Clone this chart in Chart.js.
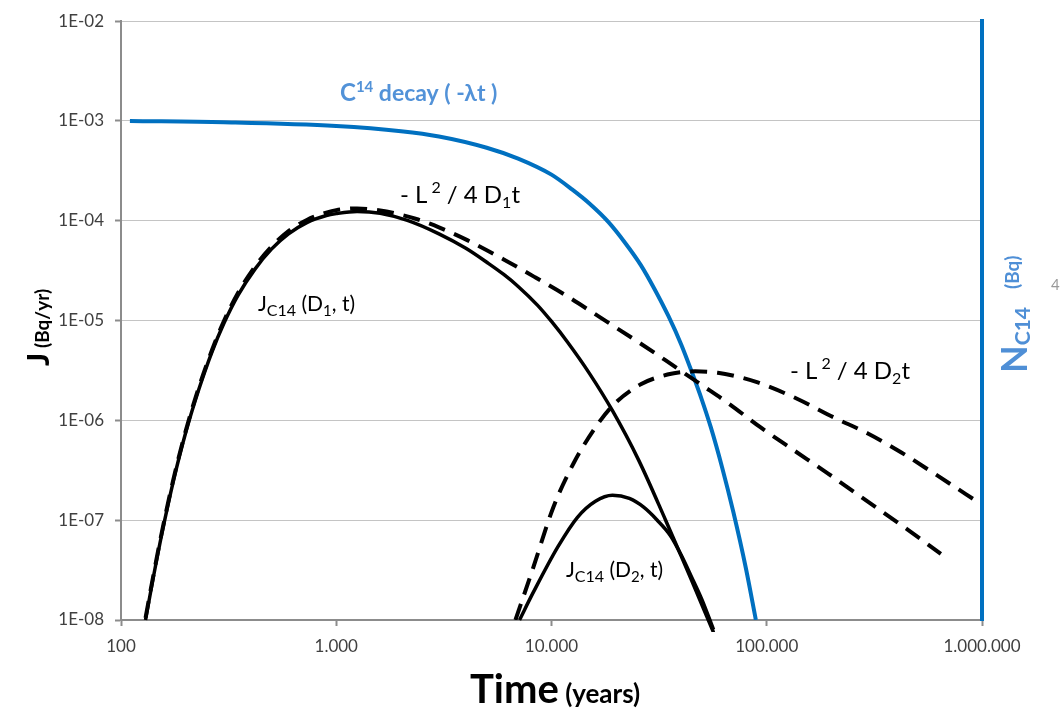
<!DOCTYPE html>
<html>
<head>
<meta charset="utf-8">
<script src="https://cdn.jsdelivr.net/npm/chart.js@4/dist/chart.umd.min.js"></script>
<style>
  html, body { margin: 0; padding: 0; background: #fff; }
  canvas { display: block; }
</style>
</head>
<body>
<canvas id="c" width="1061" height="711"></canvas>
<script>
// axis ticks (decades only)
const xTicks = [100, 1000, 10000, 100000, 1000000]
const xTickLabels = ["100", "1.000", "10.000", "100.000", "1.000.000"]
const yTicks = [1e-8, 1e-7, 1e-6, 1e-5, 1e-4, 1e-3, 1e-2]
const yTickLabels = ["1E-08", "1E-07", "1E-06", "1E-05", "1E-04", "1E-03", "1E-02"]

// C14 decay (blue)
const decayT = [110, 300, 1000, 2000, 3000, 5000, 7000, 10000, 12500, 15000, 18400, 22000, 26000, 30000, 35000, 40000, 45000, 50000, 55000, 62000, 70000, 80000, 89000]
const decayN = [1.0e-3, 9.7e-4, 8.9e-4, 7.9e-4, 7.0e-4, 5.4e-4, 4.2e-4, 2.9e-4, 2.05e-4, 1.49e-4, 9.7e-5, 6.0e-5, 3.6e-5, 2.1e-5, 1.1e-5, 5.8e-6, 3.0e-6, 1.6e-6, 8.5e-7, 3.4e-7, 1.2e-7, 3.3e-8, 1.0e-8]

// J_C14(D1, t) solid
const j1T = [130, 140, 155, 175, 200, 230, 265, 300, 350, 420, 500, 600, 730, 900, 1000, 1250, 1600, 2140, 3000, 4000, 5040, 6000, 7000, 8600, 10000, 11860, 15000, 19200, 25400, 33900, 40000, 44400, 56600]
const j1J = [1.0e-8, 2.4e-8, 7.4e-8, 2.45e-7, 7.6e-7, 2.05e-6, 4.9e-6, 9.3e-6, 1.8e-5, 3.3e-5, 5.2e-5, 7.4e-5, 9.6e-5, 1.13e-4, 1.18e-4, 1.24e-4, 1.19e-4, 1.01e-4, 7.4e-5, 5.3e-5, 3.8e-5, 2.9e-5, 2.2e-5, 1.43e-5, 9.8e-6, 6.1e-6, 2.96e-6, 1.25e-6, 4.0e-7, 1.0e-7, 4.4e-8, 2.6e-8, 7.5e-9]

// -L^2/4D1t dashed
const g1T = [130, 140, 155, 175, 200, 230, 265, 300, 350, 420, 500, 600, 730, 900, 1000, 1250, 1600, 2000, 2400, 3000, 4060, 6000, 8430, 11860, 16900, 25900, 35700, 49300, 65900, 93700, 134000, 192000, 265000, 453000, 644000]
const g1J = [1.05e-8, 2.5e-8, 7.7e-8, 2.55e-7, 7.9e-7, 2.15e-6, 5.1e-6, 9.8e-6, 1.9e-5, 3.5e-5, 5.5e-5, 7.9e-5, 1.02e-4, 1.21e-4, 1.28e-4, 1.33e-4, 1.27e-4, 1.15e-4, 1.03e-4, 8.6e-5, 6.4e-5, 4.1e-5, 2.7e-5, 1.75e-5, 1.07e-5, 5.9e-6, 3.7e-6, 2.3e-6, 1.5e-6, 8.5e-7, 5.0e-7, 2.95e-7, 1.8e-7, 8.0e-8, 4.6e-8]

// J_C14(D2, t) solid
const j2T = [7100, 8240, 10700, 13200, 16000, 19200, 23000, 26800, 31000, 35700, 40000, 44400, 50000, 56600]
const j2J = [1e-8, 1.9e-8, 5.4e-8, 1.07e-7, 1.55e-7, 1.78e-7, 1.65e-7, 1.35e-7, 1.0e-7, 7.0e-8, 4.5e-8, 2.8e-8, 1.6e-8, 8e-9]

// -L^2/4D2t dashed
const g2T = [6800, 8170, 10200, 12650, 16000, 19200, 26000, 35000, 40000, 46500, 59200, 70300, 90800, 139000, 205000, 295000, 420000, 598000, 989000]
const g2J = [1e-8, 3.2e-8, 1.35e-7, 3.7e-7, 8.5e-7, 1.4e-6, 2.3e-6, 2.9e-6, 3.05e-6, 3.1e-6, 3.0e-6, 2.8e-6, 2.4e-6, 1.64e-6, 1.07e-6, 7.4e-7, 4.8e-7, 2.95e-7, 1.45e-7]

const pts = (t, v) => t.map((x, i) => ({ x: x, y: v[i] }))

Chart.defaults.font.family = "Lato"

// draw a run of text pieces (sub/superscripts) starting at x, y
function rich(ctx, x, y, parts) {
	let cx = x
	parts.forEach((p) => {
		ctx.font = (p.b ? "bold " : "") + p.s + "px Lato"
		cx += p.pad || 0
		ctx.fillText(p.t, cx, y + (p.dy || 0))
		cx += ctx.measureText(p.t).width
	})
}

const labels = {
	id: "labels",
	afterDraw(chart) {
		const ctx = chart.ctx
		ctx.save()
		ctx.textBaseline = "alphabetic"
		ctx.textAlign = "left"

		ctx.fillStyle = "#5292d8"
		rich(ctx, 340, 101, [
			{ t: "C", s: 24, b: true },
			{ t: "14", s: 15, b: true, dy: -9 },
			{ t: " decay ( -λt )", s: 23, b: true },
		])

		ctx.fillStyle = "#000"
		const lsq = (n) => [
			{ t: "- L", s: 24 },
			{ t: "2", s: 16, dy: -10, pad: 4 },
			{ t: " / 4 D", s: 24 },
			{ t: n, s: 16, dy: 5 },
			{ t: "t", s: 24 },
		]
		rich(ctx, 400, 203, lsq("1"))
		rich(ctx, 790, 379, lsq("2"))

		const jc = (n) => [
			{ t: "J", s: 21 },
			{ t: "C14", s: 16, dy: 5 },
			{ t: " (D", s: 21 },
			{ t: n, s: 15, dy: 5 },
			{ t: ", t)", s: 21 },
		]
		rich(ctx, 258, 311, jc("1"))
		rich(ctx, 566, 577, jc("2"))

		// axis titles
		rich(ctx, 470, 703, [
			{ t: "Time", s: 40, b: true },
			{ t: " (years)", s: 26, b: true },
		])

		ctx.save()
		ctx.translate(49, 366)
		ctx.rotate(-Math.PI / 2)
		rich(ctx, 0, 0, [
			{ t: "J", s: 31, b: true },
			{ t: " (Bq/yr)", s: 19, b: true },
		])
		ctx.restore()

		ctx.save()
		ctx.fillStyle = "#4f8fd6"
		ctx.translate(1027, 373)
		ctx.rotate(-Math.PI / 2)
		rich(ctx, 0, 0, [
			{ t: "N", s: 36, b: true },
			{ t: "C14", s: 21, b: true, dy: 3 },
			{ t: "(Bq)", s: 19, b: true, dy: -8, pad: 18 },
		])
		ctx.restore()

		ctx.fillStyle = "#999"
		ctx.font = "15px Lato"
		ctx.fillText("4", 1051, 290)
		ctx.restore()
	},
}

const black = "#000000"

new Chart(document.getElementById("c"), {
	type: "line",
	data: {
		datasets: [
			{
				label: "-L2/4D1t",
				data: pts(g1T, g1J),
				borderColor: black,
				borderWidth: 4,
				borderDash: [17, 10],
			},
			{
				label: "-L2/4D2t",
				data: pts(g2T, g2J),
				borderColor: black,
				borderWidth: 4,
				borderDash: [17, 10],
			},
			{
				label: "J(D1,t)",
				data: pts(j1T, j1J),
				borderColor: black,
				borderWidth: 3.5,
				clip: { left: 5, top: 5, right: 5, bottom: 12 },
			},
			{
				label: "J(D2,t)",
				data: pts(j2T, j2J),
				borderColor: black,
				borderWidth: 3.5,
				clip: { left: 5, top: 5, right: 5, bottom: 12 },
			},
			{
				label: "C14 decay",
				data: pts(decayT, decayN),
				borderColor: "#0070c0",
				borderWidth: 4,
			},
		],
	},
	options: {
		responsive: false,
		animation: false,
		layout: { padding: { top: 20, left: 0, right: 0, bottom: 0 } },
		elements: {
			point: { radius: 0 },
			line: { cubicInterpolationMode: "monotone", fill: false },
		},
		plugins: {
			legend: { display: false },
			tooltip: { enabled: false },
		},
		scales: {
			x: {
				type: "logarithmic",
				min: 100,
				max: 1000000,
				afterBuildTicks: (s) => {
					s.ticks = xTicks.map((v) => ({ value: v }))
				},
				afterFit: (s) => {
					s.height = 91
				},
				ticks: {
					callback: (v, i) => xTickLabels[i],
					font: { size: 17 },
					color: "#404040",
					padding: 10,
					maxRotation: 0,
					autoSkip: false,
				},
				grid: {
					drawOnChartArea: false,
					tickLength: 6,
					tickColor: "#8c8c8c",
					tickWidth: 2,
				},
				border: { color: "#8c8c8c", width: 2 },
			},
			y: {
				type: "logarithmic",
				position: "left",
				min: 1e-8,
				max: 1e-2,
				afterBuildTicks: (s) => {
					s.ticks = yTicks.map((v) => ({ value: v }))
				},
				afterFit: (s) => {
					s.width = 121
				},
				ticks: {
					callback: (v, i) => yTickLabels[i],
					font: { size: 17 },
					color: "#404040",
					padding: 11,
				},
				grid: {
					color: "#c4c4c4",
					lineWidth: 1,
					tickLength: 6,
					tickColor: "#8c8c8c",
					tickWidth: 2,
				},
				border: { color: "#8c8c8c", width: 2 },
			},
			y2: {
				type: "linear",
				position: "right",
				min: 0,
				max: 1,
				afterFit: (s) => {
					s.width = 79
				},
				ticks: { display: false },
				grid: { drawOnChartArea: false, drawTicks: false },
				border: { color: "#0070c0", width: 4 },
			},
		},
	},
	plugins: [labels],
})
</script>
</body>
</html>
